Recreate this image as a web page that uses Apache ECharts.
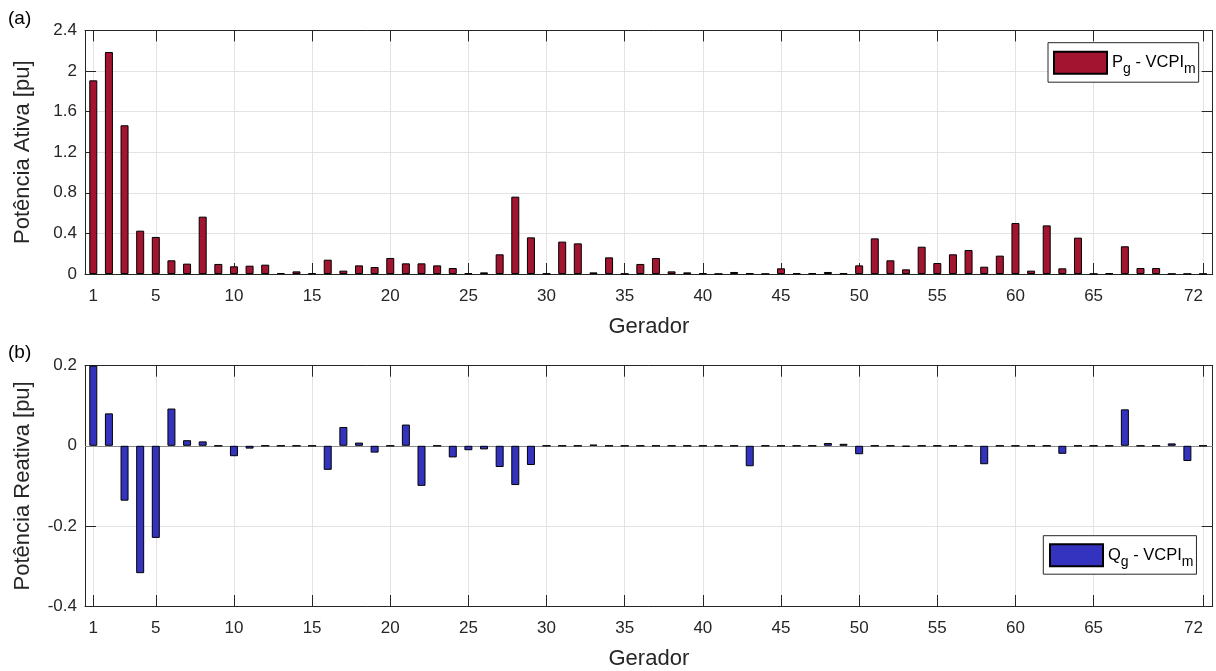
<!DOCTYPE html>
<html>
<head>
<meta charset="utf-8">
<title>Potência dos geradores</title>
<script src="https://cdn.jsdelivr.net/npm/echarts@6/dist/echarts.min.js"></script>
<style>
  html, body { margin: 0; padding: 0; background: #ffffff; }
  #chart { width: 1216px; height: 671px; }
</style>
</head>
<body>
<div id="chart"></div>
<script>
// Active power per generator [pu]
const activePower = [
  1.908, 2.187, 1.465, 0.427, 0.365, 0.135, 0.102, 0.565, 0.099, 0.076,
  0.082, 0.092, 0.010, 0.026, 0.005, 0.141, 0.033, 0.085, 0.069, 0.158,
  0.105, 0.105, 0.085, 0.059, 0.007, 0.016, 0.194, 0.762, 0.361, 0.005,
  0.319, 0.302, 0.016, 0.164, 0.003, 0.099, 0.158, 0.026, 0.016, 0.007,
  0.002, 0.020, 0.007, 0.002, 0.056, 0.007, 0.007, 0.020, 0.007, 0.085,
  0.351, 0.135, 0.046, 0.269, 0.108, 0.194, 0.236, 0.072, 0.181, 0.502,
  0.033, 0.479, 0.056, 0.358, 0.002, 0.007, 0.273, 0.059, 0.059, 0.002,
  0.002, 0.002
];

// Reactive power per generator [pu]
const reactivePower = [
  0.200, 0.081, -0.137, -0.318, -0.230, 0.093, 0.014, 0.011, 0, -0.026,
  -0.007, 0, 0, 0, 0, -0.060, 0.047, 0.008, -0.017, 0,
  0.053, -0.100, 0, -0.029, -0.011, -0.009, -0.053, -0.098, -0.048, 0,
  0, 0, 0.003, 0, 0, 0, 0, 0, 0, 0,
  0, 0, -0.051, 0, 0, 0, 0, 0.007, 0.005, -0.021,
  0, 0, -0.002, 0, 0, 0, 0, -0.046, 0, 0,
  0, 0, -0.020, 0, 0, 0, 0.091, 0, 0, 0.006,
  -0.038, 0
];

// Generator numbers shown on the x axis
const generatorTicks = [1, 5, 10, 15, 20, 25, 30, 35, 40, 45, 50, 55, 60, 65, 72];

const FONT = '"Liberation Sans", Arial, Helvetica, sans-serif';
const AXIS_COLOR = '#262626';
const GRID_COLOR = '#e3e3e3';
const RED = '#A2142F';
const BLUE = '#3333BF';

const toPoints = arr => arr.map((v, i) => [i + 1, v]);

const X_MIN = 0.47, X_MAX = 72.62;

function xAxes(gridIndex) {
  const base = {
    gridIndex,
    type: 'value',
    min: X_MIN,
    max: X_MAX,
    axisLine: { show: true, onZero: false, lineStyle: { color: AXIS_COLOR, width: 1 } },
    axisTick: { show: true, inside: true, length: 11, customValues: generatorTicks,
                lineStyle: { color: AXIS_COLOR, width: 1 } },
    splitLine: { show: false }
  };
  return [
    Object.assign({}, base, {
      position: 'bottom',
      name: 'Gerador',
      nameLocation: 'middle',
      nameGap: 42,
      nameTextStyle: { fontFamily: FONT, fontSize: 22, color: AXIS_COLOR },
      axisLabel: { show: true, customValues: generatorTicks, margin: 14, alignMaxLabel: 'right',
                   fontFamily: FONT, fontSize: 17, color: AXIS_COLOR },
      splitLine: { show: true, lineStyle: { color: GRID_COLOR, width: 1 } }
    }),
    Object.assign({}, base, { position: 'top', axisLabel: { show: false } })
  ];
}

function yAxes(gridIndex, min, max, interval, name) {
  const base = {
    gridIndex,
    type: 'value',
    min, max, interval,
    axisLine: { show: true, onZero: false, lineStyle: { color: AXIS_COLOR, width: 1 } },
    axisTick: { show: true, inside: true, length: 11, lineStyle: { color: AXIS_COLOR, width: 1 } },
    splitLine: { show: false }
  };
  return [
    Object.assign({}, base, {
      position: 'left',
      name,
      nameLocation: 'middle',
      nameGap: 51,
      nameTextStyle: { fontFamily: FONT, fontSize: 22, color: AXIS_COLOR },
      axisLabel: { show: true, margin: 8, fontFamily: FONT, fontSize: 17, color: AXIS_COLOR },
      splitLine: { show: true, lineStyle: { color: GRID_COLOR, width: 1 } }
    }),
    Object.assign({}, base, { position: 'right', axisLabel: { show: false } })
  ];
}

const legendRich = {
  n: { fontFamily: FONT, fontSize: 16.5, color: '#000', lineHeight: 19 },
  s: { fontFamily: FONT, fontSize: 14, color: '#000', lineHeight: 15, padding: [13, 0, 0, 0] }
};

const chart = echarts.init(document.getElementById('chart'), null, { renderer: 'canvas' });

chart.setOption({
  animation: false,
  backgroundColor: '#ffffff',
  grid: [
    { left: 85, top: 30.4, width: 1127.7, height: 243.6, containLabel: false },
    { left: 85, top: 365.7, width: 1127.7, height: 243, containLabel: false }
  ],
  xAxis: [].concat(xAxes(0), xAxes(1)),
  yAxis: [].concat(
    yAxes(0, 0, 2.4, 0.4, 'Potência Ativa [pu]'),
    yAxes(1, -0.4, 0.2, 0.2, 'Potência Reativa [pu]')
  ),
  legend: [
    {
      data: [{ name: 'Pg', icon: 'rect' }],
      left: 1048, top: 42.7,
      orient: 'vertical',
      itemWidth: 53, itemHeight: 22, itemGap: 0,
      padding: [6.5, 3, 6, 5],
      backgroundColor: '#ffffff',
      borderColor: AXIS_COLOR, borderWidth: 1, borderRadius: 0,
      textStyle: { rich: legendRich },
      formatter: () => '{n|P}{s|g}{n| - VCPI}{s|m}'
    },
    {
      data: [{ name: 'Qg', icon: 'rect' }],
      left: 1043.3, top: 535.7,
      orient: 'vertical',
      itemWidth: 53, itemHeight: 22, itemGap: 0,
      padding: [6, 3, 5.5, 5.7],
      backgroundColor: '#ffffff',
      borderColor: AXIS_COLOR, borderWidth: 1, borderRadius: 0,
      textStyle: { rich: legendRich },
      formatter: () => '{n|Q}{s|g}{n| - VCPI}{s|m}'
    }
  ],
  graphic: [
    { type: 'text', left: 8, top: 9, style: { text: '(a)', font: '19px ' + FONT, fill: '#000' } },
    { type: 'text', left: 8, top: 343, style: { text: '(b)', font: '19px ' + FONT, fill: '#000' } }
  ],
  series: [
    {
      name: 'Pg',
      type: 'bar',
      xAxisIndex: 0, yAxisIndex: 0,
      barWidth: 8,
      data: toPoints(activePower),
      itemStyle: { color: RED, borderColor: '#000', borderWidth: 1 }
    },
    {
      name: 'Qg',
      type: 'bar',
      xAxisIndex: 2, yAxisIndex: 2,
      barWidth: 8,
      data: toPoints(reactivePower),
      itemStyle: { color: BLUE, borderColor: '#000', borderWidth: 1 },
      markLine: {
        silent: true,
        symbol: 'none',
        label: { show: false },
        lineStyle: { color: '#8a8a8a', width: 1, type: 'solid' },
        data: [{ yAxis: 0 }],
        z: 1
      }
    }
  ]
});
</script>
</body>
</html>
